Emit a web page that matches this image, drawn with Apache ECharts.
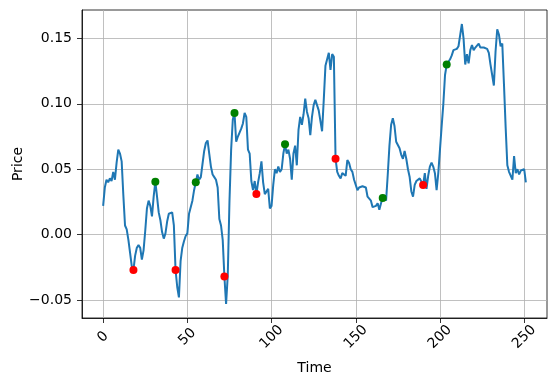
<!DOCTYPE html>
<html>
<head>
<meta charset="utf-8">
<script src="https://cdn.jsdelivr.net/npm/echarts@6/dist/echarts.min.js"></script>
<style>
  html, body { margin: 0; padding: 0; background: #fff; }
  #chart { width: 556px; height: 386px; }
</style>
</head>
<body>
<div id="chart"></div>
<script>
// price per time step (t = 0..251)
const prices = [
  0.022, 0.036, 0.042, 0.040, 0.043, 0.041, 0.048, 0.042, 0.055, 0.065,
  0.062, 0.056, 0.030, 0.007, 0.004, -0.004, -0.014, -0.024, -0.027, -0.016,
  -0.010, -0.008, -0.010, -0.019, -0.012, 0.003, 0.020, 0.026, 0.022, 0.014,
  0.029, 0.0405, 0.029, 0.017, 0.011, 0.002, -0.003, 0.001, 0.010, 0.016,
  0.015, 0.017, 0.007, -0.027, -0.040, -0.048, -0.020, -0.010, -0.005, -0.001,
  0.001, 0.016, 0.017, 0.026, 0.034, 0.040, 0.046, 0.042, 0.044, 0.054,
  0.064, 0.070, 0.072, 0.062, 0.052, 0.046, 0.044, 0.042, 0.036, 0.012,
  0.007, -0.004, -0.032, -0.053, -0.031, 0.025, 0.065, 0.088, 0.093, 0.071,
  0.075, 0.078, 0.081, 0.085, 0.093, 0.090, 0.065, 0.062, 0.041, 0.034,
  0.041, 0.031, 0.040, 0.047, 0.056, 0.040, 0.031, 0.032, 0.035, 0.020,
  0.022, 0.038, 0.050, 0.047, 0.052, 0.048, 0.050, 0.062, 0.069, 0.062,
  0.065, 0.058, 0.042, 0.062, 0.068, 0.053, 0.080, 0.090, 0.084, 0.092,
  0.104, 0.094, 0.089, 0.076, 0.090, 0.099, 0.103, 0.103, 0.095, 0.094,
  0.079, 0.103, 0.129, 0.130, 0.139, 0.126, 0.138, 0.136, 0.058, 0.048,
  0.045, 0.043, 0.047, 0.046, 0.045, 0.057, 0.055, 0.050, 0.048, 0.042,
  0.041, 0.034, 0.036, 0.036, 0.037, 0.037, 0.036, 0.029, 0.030, 0.026,
  0.021, 0.021, 0.022, 0.024, 0.019, 0.024, 0.028, 0.030, 0.026, 0.046,
  0.068, 0.084, 0.089, 0.083, 0.071, 0.072, 0.066, 0.061, 0.058, 0.064,
  0.058, 0.050, 0.044, 0.033, 0.029, 0.038, 0.041, 0.042, 0.043, 0.044,
  0.038, 0.047, 0.035, 0.045, 0.052, 0.055, 0.052, 0.047, 0.034, 0.047,
  0.047, 0.083, 0.100, 0.122, 0.130, 0.130, 0.134, 0.137, 0.141, 0.140,
  0.142, 0.144, 0.143, 0.161, 0.150, 0.130, 0.138, 0.131, 0.141, 0.145,
  0.141, 0.143, 0.144, 0.146, 0.143, 0.144, 0.143, 0.144, 0.142, 0.139,
  0.130, 0.122, 0.114, 0.140, 0.157, 0.153, 0.144, 0.146, 0.115, 0.082,
  0.053, 0.048, 0.047, 0.042, 0.060, 0.047, 0.050, 0.046, 0.049, 0.048,
  0.050, 0.040
]

// time steps marked with red / green dots
const redIdx = [18, 43, 72, 91, 138, 190]
const greenIdx = [31, 55, 78, 108, 166, 204]

const xTicks = [0, 50, 100, 150, 200, 250]
const yTicks = [-0.05, 0, 0.05, 0.10, 0.15]

const FONT = 'DejaVu Sans'

// matplotlib-style 5% margins around the data
const xMin = 0, xMax = prices.length - 1
const yLo = Math.min(...prices), yHi = Math.max(...prices)
const xPad = (xMax - xMin) * 0.05
const yPad = (yHi - yLo) * 0.05

const chart = echarts.init(document.getElementById('chart'), null, { renderer: 'canvas' })

const axisCommon = {
  axisLine: { show: true, onZero: false, lineStyle: { color: '#000', width: 0.8 } },
  axisTick: { show: true, length: 5, lineStyle: { color: '#000', width: 0.8 } },
  splitLine: { show: true, lineStyle: { color: '#b0b0b0', width: 0.8 } },
  nameMoveOverlap: false,
  nameTextStyle: { color: '#000', fontFamily: FONT, fontSize: 14 }
}

chart.setOption({
  animation: false,
  backgroundColor: '#fff',
  grid: {
    left: 82, right: 9, top: 10, bottom: 68,
    containLabel: false,
    outerBoundsMode: 'none',
    show: true, borderColor: '#000', borderWidth: 0.8, backgroundColor: 'transparent'
  },
  xAxis: {
    ...axisCommon,
    type: 'value',
    min: xMin - xPad,
    max: xMax + xPad,
    splitNumber: 5,
    name: 'Time',
    nameLocation: 'middle',
    nameGap: 43,
    axisTick: { ...axisCommon.axisTick, customValues: xTicks },
    axisLabel: {
      customValues: xTicks,
      rotate: 45,
      align: 'center',
      verticalAlign: 'middle',
      margin: 19,
      color: '#000',
      fontFamily: FONT,
      fontSize: 14
    }
  },
  yAxis: {
    ...axisCommon,
    type: 'value',
    min: yLo - yPad,
    max: yHi + yPad,
    splitNumber: 5,
    name: 'Price',
    nameLocation: 'middle',
    nameGap: 57,
    axisTick: { ...axisCommon.axisTick, customValues: yTicks },
    axisLabel: {
      customValues: yTicks,
      margin: 10,
      color: '#000',
      fontFamily: FONT,
      fontSize: 14,
      formatter: (v) => v.toFixed(2).replace('-', '\u2212')
    }
  },
  series: [
    {
      type: 'line',
      data: prices.map((v, i) => [i, v]),
      showSymbol: false,
      lineStyle: { color: '#1f77b4', width: 2 },
      z: 2
    },
    {
      type: 'scatter',
      data: redIdx.map((i) => [i, prices[i]]),
      symbolSize: 8,
      itemStyle: { color: '#ff0000', opacity: 1 },
      z: 3
    },
    {
      type: 'scatter',
      data: greenIdx.map((i) => [i, prices[i]]),
      symbolSize: 8,
      itemStyle: { color: '#008000', opacity: 1 },
      z: 3
    }
  ]
})
</script>
</body>
</html>
